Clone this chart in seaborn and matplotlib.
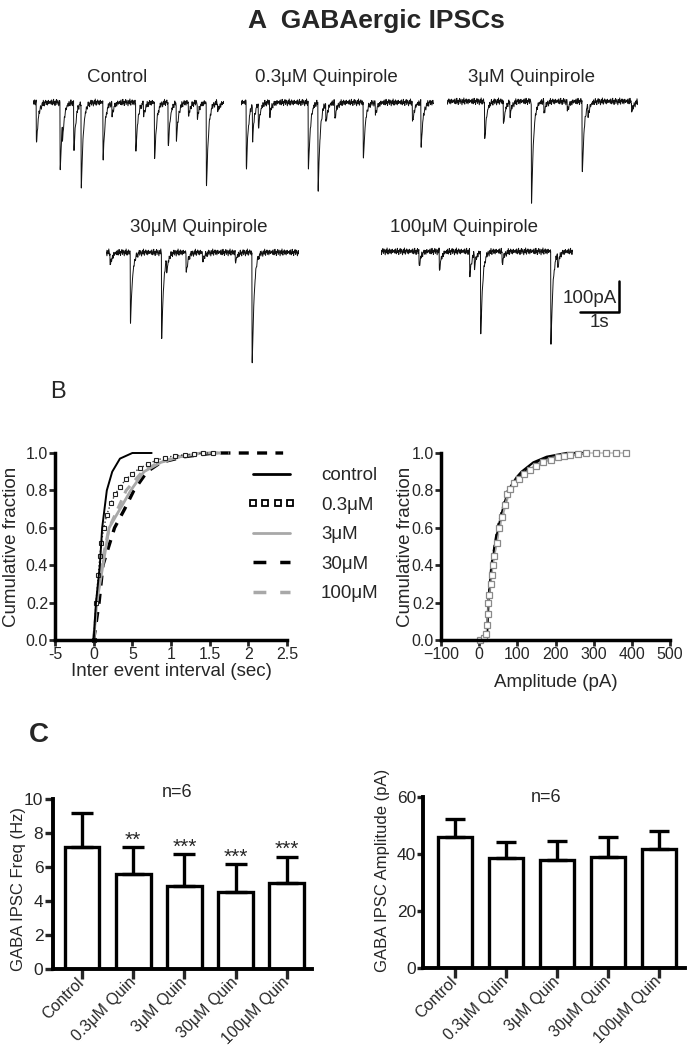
import numpy as np
import pandas as pd
import matplotlib
matplotlib.use("Agg")
import matplotlib.pyplot as plt
import seaborn as sns
from matplotlib.lines import Line2D

# ---- datos ----
# A: eventos (tiempo s, amplitud pA) de cada registro
TRACE_NAMES = ["Control", "0.3μM Quinpirole", "3μM Quinpirole", "30μM Quinpirole", "100μM Quinpirole"]
TRACE_LEN = [4.9, 4.94, 4.9, 4.95, 4.92]
ev_control_t = [0.08, 0.69, 0.75, 1.04, 1.23, 1.79, 2.02, 2.63, 2.83, 3.11, 3.46, 3.67, 3.98, 4.21, 4.44, 4.73]
ev_control_a = [131, 215, 55, 156, 271, 180, 40, 156, 40, 185, 142, 120, 45, 50, 271, 30]
ev_q03_t = [0.13, 0.29, 0.44, 0.73, 1.72, 1.97, 2.17, 2.40, 3.13, 3.44, 4.39, 4.61]
ev_q03_a = [210, 108, 75, 40, 216, 275, 60, 50, 184, 40, 65, 140]
ev_q3_t = [0.96, 1.44, 1.61, 2.16, 2.48, 3.08, 3.46, 3.61, 4.73]
ev_q3_a = [122, 76, 40, 327, 35, 30, 232, 35, 35]
ev_q30_t = [0.10, 0.62, 1.42, 1.55, 2.05, 2.47, 3.31, 3.74]
ev_q30_a = [43, 224, 269, 43, 65, 32, 32, 360]
ev_q100_t = [0.97, 1.49, 2.27, 2.39, 2.55, 3.10, 4.35, 4.52]
ev_q100_a = [45, 59, 75, 43, 263, 38, 296, 43]
# ruido de linea base (pA), leido a ojo
NOISE_PA = [0, 7, -4, 10, 3, -6, 5, 12, -2, 4, -8, 6, 1, 11, -5, 2, 9, -1, -9, 5,
            8, -3, 13, 0, -7, 6, 3, 10, -4, -1, 7, -6, 4, 9, -2, 1, 5]
SCALE_S, SCALE_PA = 1, 100

# B: distribuciones acumuladas
CONDS = ["control", "0.3μM", "3μM", "30μM", "100μM"]
iei_control_x = [0, 0.03, 0.08, 0.11, 0.17, 0.24, 0.34, 0.5, 0.75]
iei_control_y = [0, 0.2, 0.4, 0.6, 0.8, 0.9, 0.97, 1.0, 1.0]
iei_q03_x = [0, 0.03, 0.06, 0.08, 0.1, 0.13, 0.17, 0.22, 0.28, 0.34, 0.42, 0.5, 0.6, 0.7, 0.8, 0.92, 1.05, 1.18, 1.3, 1.42, 1.54]
iei_q03_y = [0, 0.2, 0.35, 0.45, 0.52, 0.6, 0.67, 0.73, 0.78, 0.82, 0.86, 0.89, 0.92, 0.94, 0.96, 0.975, 0.985, 0.99, 0.995, 1.0, 1.0]
iei_q3_x = [0, 0.04, 0.12, 0.2, 0.48, 0.65, 0.87, 1.12, 1.4, 1.6]
iei_q3_y = [0, 0.2, 0.4, 0.6, 0.8, 0.9, 0.95, 0.98, 1.0, 1.0]
iei_q30_x = [0, 0.07, 0.12, 0.27, 0.4, 0.52, 0.69, 0.87, 1.17, 1.56, 2.45]
iei_q30_y = [0, 0.2, 0.4, 0.6, 0.7, 0.8, 0.9, 0.95, 0.98, 1.0, 1.0]
iei_q100_x = [0, 0.04, 0.1, 0.2, 0.42, 0.63, 0.84, 1.1, 1.4, 1.75]
iei_q100_y = [0, 0.2, 0.4, 0.6, 0.8, 0.9, 0.95, 0.98, 1.0, 1.0]

amp_control_x = [20, 24, 28, 33, 41, 50, 62, 76, 98, 111, 142, 177, 229, 281]
amp_control_y = [0, 0.2, 0.3, 0.4, 0.5, 0.6, 0.7, 0.8, 0.87, 0.9, 0.95, 0.98, 1.0, 1.0]
amp_q03_x = [2, 12, 18, 20, 22, 24, 27, 30, 33, 36, 40, 46, 53, 60, 67, 74, 81, 92, 105, 118, 133,
             150, 168, 187, 207, 222, 238, 258, 281, 307, 333, 359, 386]
amp_q03_y = [0, 0.01, 0.03, 0.08, 0.14, 0.2, 0.24, 0.3, 0.35, 0.4, 0.45, 0.52, 0.6, 0.66, 0.72, 0.78, 0.81, 0.84, 0.86, 0.89, 0.91,
             0.93, 0.95, 0.965, 0.98, 0.985, 0.99, 0.995, 1.0, 1.0, 1.0, 1.0, 1.0]
amp_q3_x = [20, 25, 34, 52, 80, 104, 125, 160, 200, 260, 280]
amp_q3_y = [0, 0.2, 0.4, 0.6, 0.8, 0.86, 0.9, 0.95, 0.98, 1.0, 1.0]
amp_q30_x = [20, 24, 32, 48, 74, 100, 118, 150, 190, 240, 280]
amp_q30_y = [0, 0.2, 0.4, 0.6, 0.8, 0.86, 0.9, 0.95, 0.98, 0.995, 1.0]
amp_q100_x = [20, 25, 35, 53, 82, 110, 130, 165, 205, 250, 280]
amp_q100_y = [0, 0.2, 0.4, 0.6, 0.8, 0.87, 0.9, 0.95, 0.97, 0.99, 1.0]

# C: barras (media + SEM)
BAR_CATS = ["Control", "0.3μM Quin", "3μM Quin", "30μM Quin", "100μM Quin"]
freq_mean = [7.2, 5.57, 4.9, 4.51, 5.04]
freq_sem = [2.0, 1.6, 1.85, 1.65, 1.56]
freq_stars = ["", "**", "***", "***", "***"]
amp_mean = [45.9, 38.7, 37.9, 38.9, 41.6]
amp_sem = [6.3, 5.4, 6.7, 7.2, 6.4]

# ---- figura ----
sns.set_style("ticks")
plt.rcParams['font.family'] = ['Liberation Sans', 'DejaVu Sans']
W, H = 696, 1048
fig = plt.figure(figsize=(W / 100, H / 100), dpi=100)


def px_axes(x0, y_top, w, h):
    return fig.add_axes([x0 / W, 1 - (y_top + h) / H, w / W, h / H])


def ftext(x, y, s, **kw):
    fig.text(x / W, 1 - y / H, s, **kw)


# A. registros
PX_S, PX_PA = 39.0, 0.31
DT = 0.002


def build_trace(times, amps, T, shift):
    t = np.arange(0, T, DT)
    tn = np.arange(0, T + 0.012, 0.012)
    base = np.interp(t, tn, np.resize(np.roll(NOISE_PA, shift), tn.size))
    shape_t = np.arange(0, 0.5, DT)
    shape = np.exp(-shape_t / 0.05) - np.exp(-shape_t / 0.003)
    shape = shape / shape.max()
    y = base.astype(float)
    for t0, a in zip(times, amps):
        i0 = int(round(t0 / DT))
        seg = shape[: max(0, min(len(shape), len(t) - i0))]
        y[i0:i0 + len(seg)] -= a * seg
    return t, y


events = [(ev_control_t, ev_control_a), (ev_q03_t, ev_q03_a), (ev_q3_t, ev_q3_a),
          (ev_q30_t, ev_q30_a), (ev_q100_t, ev_q100_a)]
trace_pos = [(33, 103), (241, 103), (447, 102), (106, 253), (381, 252)]
label_pos = [(117, 78), (326, 78), (531, 78), (199, 228), (464, 228)]
for k, ((tt, aa), (x0, yb), T) in enumerate(zip(events, trace_pos, TRACE_LEN)):
    ax = px_axes(x0, yb - 15, T * PX_S, 135)
    t, y = build_trace(tt, aa, T, k * 7)
    ax.plot(t, y, color="#111111", lw=0.7)
    ax.set_xlim(0, T)
    ax.set_ylim(-120 / PX_PA, 15 / PX_PA)
    ax.axis("off")
    lx, ly = label_pos[k]
    ftext(lx, ly, TRACE_NAMES[k], ha="center", va="center", fontsize=13.5)

# barra de escala
axs = px_axes(580, 281, SCALE_S * PX_S, SCALE_PA * PX_PA)
axs.plot([0, SCALE_S, SCALE_S], [0, 0, SCALE_PA], color="black", lw=1.8, clip_on=False)
axs.set_xlim(0, SCALE_S)
axs.set_ylim(0, SCALE_PA)
axs.axis("off")
axs.text(SCALE_S * 0.95, SCALE_PA * 0.45, "100pA", ha="right", va="center", fontsize=13.5)
axs.text(SCALE_S * 0.5, -SCALE_PA * 0.08, "1s", ha="center", va="top", fontsize=13.5)

ftext(376, 21, "A  GABAergic IPSCs", ha="center", va="center", fontsize=19, fontweight="bold")
ftext(58, 392, "B", ha="center", va="center", fontsize=17)
ftext(39, 735, "C", ha="center", va="center", fontsize=20, fontweight="bold")

GRAY = "#a8a8a8"


def style_ax(ax, lw=2.5):
    sns.despine(ax=ax)
    for s in ["left", "bottom"]:
        ax.spines[s].set_linewidth(lw)
        ax.spines[s].set_color("black")


def cdf(ax, x, y, **kw):
    df = pd.DataFrame({"x": x, "y": y})
    sns.lineplot(data=df, x="x", y="y", ax=ax, estimator=None, sort=False, clip_on=False, **kw)


# B izquierda: intervalo entre eventos
axL = px_axes(55, 453, 232, 187)
cdf(axL, iei_q30_x, iei_q30_y, color="black", lw=2.4, dashes=(3, 2.5))
cdf(axL, iei_q100_x, iei_q100_y, color=GRAY, lw=2.2, dashes=(3, 2.5))
cdf(axL, iei_q3_x, iei_q3_y, color=GRAY, lw=2.0)
cdf(axL, iei_q03_x, iei_q03_y, color="#333333", lw=1.0, linestyle=":", marker="s",
    markersize=3.2, markerfacecolor="white", markeredgecolor="#222222", markeredgewidth=0.8)
cdf(axL, iei_control_x, iei_control_y, color="black", lw=1.4)
axL.set_xlim(-0.5, 2.5)
axL.set_ylim(0, 1)
axL.set_xticks([-0.5, 0, 0.5, 1, 1.5, 2, 2.5])
axL.set_xticklabels(["-5", "0", "5", "1", "1.5", "2", "2.5"])
axL.set_yticks([0, 0.2, 0.4, 0.6, 0.8, 1.0])
axL.set_yticklabels(["0.0", "0.2", "0.4", "0.6", "0.8", "1.0"])
axL.set_xlabel("Inter event interval (sec)", fontsize=13.5)
axL.set_ylabel("Cumulative fraction", fontsize=13.5)
axL.xaxis.set_label_coords(0.5, -0.125)
axL.yaxis.set_label_coords(-0.15, 0.5)
style_ax(axL)
axL.tick_params(labelsize=11.5, width=2, length=4, pad=1)

handles = [
    Line2D([], [], color="black", lw=2),
    Line2D([], [], color="black", lw=0, marker="s", markersize=5, markerfacecolor="white",
           markeredgecolor="black", markeredgewidth=1.3),
    Line2D([], [], color=GRAY, lw=2),
    Line2D([], [], color="black", lw=2.5, dashes=(3.7, 4.0)),
    Line2D([], [], color=GRAY, lw=2.5, dashes=(3.7, 4.0)),
]
axL.legend(handles, CONDS, loc="upper left", bbox_to_anchor=(247 / W, 1 - 467 / H),
           bbox_transform=fig.transFigure, frameon=False, fontsize=13.5, numpoints=4,
           handlelength=2.6, handletextpad=1.35, labelspacing=0.66, borderpad=0, borderaxespad=0)

# B derecha: amplitud
axR = px_axes(441, 453, 229, 187)
cdf(axR, amp_q30_x, amp_q30_y, color="black", lw=1.6, dashes=(3, 2))
cdf(axR, amp_q100_x, amp_q100_y, color=GRAY, lw=1.6, dashes=(3, 2))
cdf(axR, amp_q3_x, amp_q3_y, color=GRAY, lw=1.6)
cdf(axR, amp_control_x, amp_control_y, color="black", lw=1.6)
cdf(axR, amp_q03_x, amp_q03_y, color=GRAY, lw=0.8, marker="s", markersize=4,
    markerfacecolor="white", markeredgecolor="#8a8a8a", markeredgewidth=0.9)
axR.set_xlim(-100, 500)
axR.set_ylim(0, 1)
axR.set_xticks([-100, 0, 100, 200, 300, 400, 500])
axR.set_yticks([0, 0.2, 0.4, 0.6, 0.8, 1.0])
axR.set_yticklabels(["0.0", "0.2", "0.4", "0.6", "0.8", "1.0"])
axR.set_xlabel("Amplitude (pA)", fontsize=13.5)
axR.set_ylabel("Cumulative fraction", fontsize=13.5)
axR.xaxis.set_label_coords(0.5, -0.18)
axR.yaxis.set_label_coords(-0.12, 0.5)
style_ax(axR)
axR.tick_params(labelsize=11.5, width=2, length=4, pad=1)


# C: barras
def bars(ax, means, sems, ylim, yticks, ylabel, capsize, ticklen):
    df = pd.DataFrame({"cond": BAR_CATS, "val": means})
    sns.barplot(data=df, x="cond", y="val", ax=ax, color="white", saturation=1,
                edgecolor="black", linewidth=2.4, width=0.68, errorbar=None)
    for p in ax.patches:
        p.set_facecolor("white")
    x = np.arange(len(means))
    ax.errorbar(x, means, yerr=[np.zeros(len(sems)), sems], fmt="none", ecolor="black",
                elinewidth=2.4, capsize=capsize, capthick=2.4, zorder=3)
    ax.set_ylim(*ylim)
    ax.set_yticks(yticks)
    ax.set_xlabel("")
    ax.set_ylabel(ylabel, fontsize=12)
    style_ax(ax, 2.8)
    ax.tick_params(axis="x", labelsize=11.5, width=2.4, length=7, pad=1)
    ax.tick_params(axis="y", labelsize=12.5, width=2.4, length=ticklen, pad=1)
    for lab in ax.get_xticklabels():
        lab.set_rotation(45)
        lab.set_ha("right")
        lab.set_va("center")
        lab.set_rotation_mode("anchor")


axC1 = px_axes(53, 799, 259, 170)
bars(axC1, freq_mean, freq_sem, (0, 10), [0, 2, 4, 6, 8, 10], "GABA IPSC Freq (Hz)", 8, 6)
axC1.set_xlim(-0.566, 4.49)
axC1.yaxis.set_label_coords(-0.105, 0.47)
for i, s in enumerate(freq_stars):
    if s:
        axC1.text(i, freq_mean[i] + freq_sem[i] + 0.1, s, ha="center", va="baseline", fontsize=15)
axC1.text(0.48, 1.04, "n=6", transform=axC1.transAxes, ha="center", va="center", fontsize=13)

axC2 = px_axes(423, 797, 262, 171)
bars(axC2, amp_mean, amp_sem, (0, 60), [0, 20, 40, 60], "GABA IPSC Amplitude (pA)", 7, 4)
axC2.set_xlim(-0.627, 4.51)
axC2.yaxis.set_label_coords(-0.125, 0.57)
axC2.text(0.47, 1.0, "n=6", transform=axC2.transAxes, ha="center", va="center", fontsize=13)

fig.savefig("out.png", dpi=100)
